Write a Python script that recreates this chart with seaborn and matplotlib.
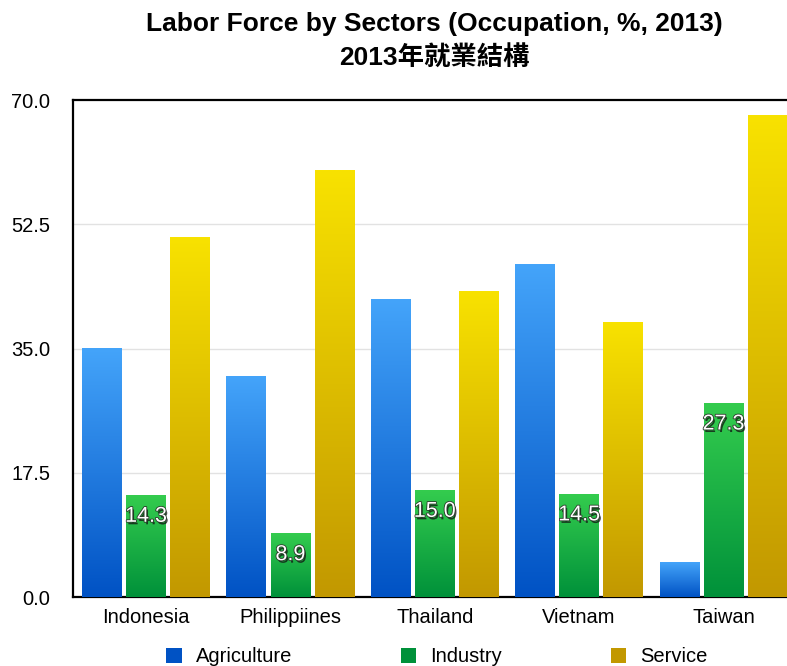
import numpy as np
import pandas as pd
import matplotlib
matplotlib.use("Agg")
import matplotlib.pyplot as plt
import matplotlib.patheffects as pe
from matplotlib.colors import LinearSegmentedColormap
from matplotlib.patches import Patch
import seaborn as sns

# datos
countries = ["Indonesia", "Philippiines", "Thailand", "Vietnam", "Taiwan"]
sectors = ["Agriculture", "Industry", "Service"]
agriculture = [35.0, 31.0, 41.9, 46.8, 4.9]
industry = [14.3, 8.9, 15.0, 14.5, 27.3]
service = [50.7, 60.1, 43.1, 38.7, 67.8]
yticks = [0.0, 17.5, 35.0, 52.5, 70.0]

# gradientes (arriba, abajo)
grad = {
    "Agriculture": ("#44a4fa", "#0052c4"),
    "Industry": ("#34cc4e", "#00913a"),
    "Service": ("#f8e200", "#c29800"),
}

df = pd.DataFrame({
    "country": countries * 3,
    "sector": [s for s in sectors for _ in countries],
    "value": agriculture + industry + service,
})

sns.set_style("white")
plt.rcParams["font.family"] = ["Liberation Sans", "Noto Sans CJK TC", "DejaVu Sans"]
plt.rcParams["text.color"] = "black"
plt.rcParams["xtick.color"] = "black"
plt.rcParams["ytick.color"] = "black"

fig = plt.figure(figsize=(7.87, 6.66), dpi=100)
ax = fig.add_axes([0.0928, 0.1036, 0.9072, 0.7462])

palette = {s: grad[s][1] for s in sectors}
sns.barplot(data=df, x="country", y="value", hue="sector", hue_order=sectors,
            palette=palette, width=0.915, gap=0.1, legend=False, ax=ax,
            zorder=2, edgecolor="none")

# relleno degradado sobre cada barra
for sector, cont in zip(sectors, ax.containers):
    cmap = LinearSegmentedColormap.from_list(sector, [grad[sector][1], grad[sector][0]])
    g = np.linspace(0, 1, 256).reshape(-1, 1)
    for bar in cont:
        x, w, h = bar.get_x(), bar.get_width(), bar.get_height()
        ax.imshow(g, cmap=cmap, extent=[x, x + w, 0, h], origin="lower",
                  aspect="auto", zorder=3)

# etiquetas de industria
for bar, v in zip(ax.containers[1], industry):
    ax.annotate(f"{v:.1f}", (bar.get_x() + bar.get_width() / 2, bar.get_height()),
                xytext=(0, -15), textcoords="offset points", ha="center", va="center",
                fontsize=15.5, color="white", zorder=5,
                path_effects=[pe.withSimplePatchShadow(offset=(1.2, -1.8), shadow_rgbFace="#111111", alpha=0.75),
                              pe.withStroke(linewidth=1.2, foreground="#2a3a2a")])

ax.set_xlim(-0.505, 4.44)
ax.set_ylim(0, 70)
ax.set_yticks(yticks)
ax.set_yticklabels([f"{t:.1f}" for t in yticks], fontsize=14.5)
ax.tick_params(axis="x", labelsize=14.5, length=0, pad=8)
ax.tick_params(axis="y", length=0, pad=16.5)
ax.set_xlabel("")
ax.set_ylabel("")
for t in yticks[1:-1]:
    ax.axhline(t, color="#e2e2e2", lw=1, zorder=1)

for side in ["left", "top", "bottom"]:
    ax.spines[side].set_color("black")
    ax.spines[side].set_linewidth(1.6)
ax.spines["right"].set_visible(False)

fig.text(0.552, 0.964, "Labor Force by Sectors (Occupation, %, 2013)",
         ha="center", va="center", fontsize=19, fontweight="bold")
fig.text(0.552, 0.912, "2013年就業結構",
         ha="center", va="center", fontsize=19, fontweight="bold")

handles = [Patch(facecolor=grad[s][1], edgecolor="none") for s in sectors]
fig.legend(handles, sectors, loc="center", bbox_to_anchor=(0.555, 0.014), ncol=3,
           frameon=False, fontsize=14.5, handlelength=0.75, handleheight=0.75,
           handletextpad=0.7, columnspacing=5.4, borderpad=0)

fig.savefig("out.png", dpi=100)
